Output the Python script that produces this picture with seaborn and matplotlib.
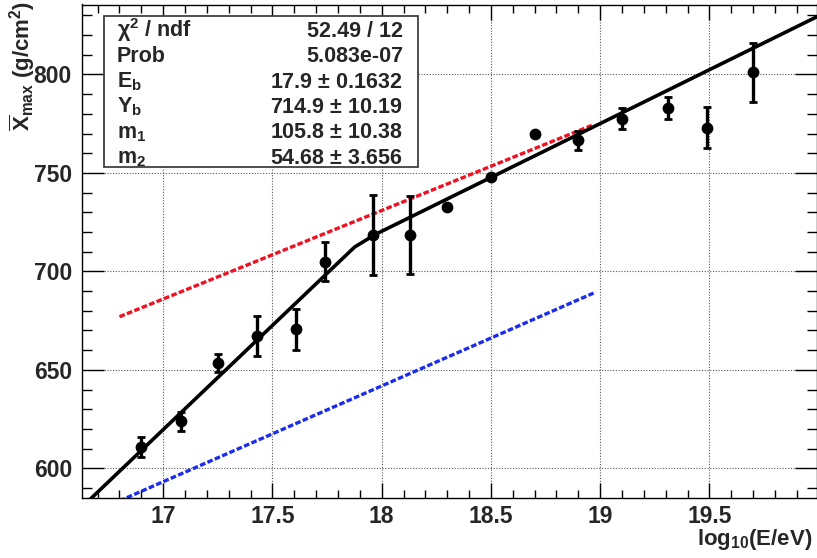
import numpy as np
import pandas as pd
import matplotlib
matplotlib.use("Agg")
import matplotlib.pyplot as plt
from matplotlib.patches import Rectangle
from matplotlib.ticker import MultipleLocator
import seaborn as sns

# Measured <Xmax> per energy bin
log_e = [16.90, 17.08, 17.25, 17.43, 17.61, 17.74, 17.96, 18.13,
         18.30, 18.50, 18.70, 18.90, 19.10, 19.31, 19.49, 19.70]
xmax_mean = [611.0, 624.0, 653.5, 667.0, 670.5, 705.0, 718.5, 718.5,
             732.5, 748.0, 769.5, 766.5, 777.5, 783.0, 773.0, 801.0]
xmax_err = [5.0, 4.8, 4.5, 10.2, 10.3, 10.0, 20.3, 20.0,
            0.0, 0.0, 0.0, 5.0, 5.2, 5.5, 10.4, 15.0]

# Broken-line fit parameters
fit_names = ["E_b", "Y_b", "m1", "m2"]
fit_values = [17.9, 714.9, 105.8, 54.68]
fit_errors = [0.1632, 10.19, 10.38, 3.656]
chi2_ndf = "52.49 / 12"
fit_prob = "5.083e-07"

# Reference lines (endpoints)
proton_x = [16.80, 18.97]
proton_y = [677.0, 774.5]
iron_x = [16.80, 18.98]
iron_y = [583.5, 689.5]

x_ticks = [17, 17.5, 18, 18.5, 19, 19.5]
x_tick_labels = ["17", "17.5", "18", "18.5", "19", "19.5"]
y_ticks = [600, 650, 700, 750, 800]
y_tick_labels = ["600", "650", "700", "750", "800"]

x_lim = (16.627, 19.99)
y_lim = (584.8, 835.5)

sns.set_theme(style="ticks")
plt.rcParams["font.family"] = ["Liberation Sans", "DejaVu Sans"]
plt.rcParams["font.weight"] = "bold"
plt.rcParams["mathtext.fontset"] = "custom"
plt.rcParams["mathtext.rm"] = "Liberation Sans:bold"
plt.rcParams["mathtext.it"] = "Liberation Sans:bold"
plt.rcParams["mathtext.bf"] = "Liberation Sans:bold"

W, H = 817, 558
fig = plt.figure(figsize=(W / 100, H / 100), dpi=100)
ax = fig.add_axes([81.7 / W, 1 - 498.3 / H, (816.5 - 81.7) / W, (498.3 - 4.5) / H])

# Broken-line fit curve
Eb, Yb, m1, m2 = fit_values
fx = np.linspace(x_lim[0], x_lim[1], 36)
fy = np.where(fx < Eb, Yb + m1 * (fx - Eb), Yb + m2 * (fx - Eb))
fit_df = pd.DataFrame({"x": fx, "y": fy})
sns.lineplot(data=fit_df, x="x", y="y", ax=ax, color="black", lw=2.6,
             sort=False, estimator=None, zorder=3)

# Reference lines
ref_df = pd.DataFrame({"x": proton_x + iron_x,
                       "y": proton_y + iron_y,
                       "line": ["p"] * 2 + ["fe"] * 2})
sns.lineplot(data=ref_df, x="x", y="y", hue="line",
             palette={"p": "#f01020", "fe": "#1a2cf0"}, ax=ax, lw=2.4,
             sort=False, estimator=None, legend=False, zorder=2,
             dashes=False)
for ln in ax.lines[1:]:
    ln.set_dashes((1.7, 0.7))

# Data points with error bars
data = pd.DataFrame({"x": log_e, "y": xmax_mean, "err": xmax_err})
ax.errorbar(data["x"], data["y"], yerr=data["err"], fmt="none",
            ecolor="black", elinewidth=2.4, capsize=2.8, capthick=2.0,
            zorder=4)
sns.scatterplot(data=data, x="x", y="y", ax=ax, color="black", s=72,
                edgecolor="black", linewidth=0, zorder=5)

ax.set_xlim(*x_lim)
ax.set_ylim(*y_lim)
ax.set_xlabel("")
ax.set_ylabel("")

ax.xaxis.set_minor_locator(MultipleLocator(0.1))
ax.yaxis.set_minor_locator(MultipleLocator(10))
ax.set_xticks(x_ticks)
ax.set_xticklabels(x_tick_labels, fontsize=16.5, fontweight="bold")
ax.set_yticks(y_ticks)
ax.set_yticklabels(y_tick_labels, fontsize=16.5, fontweight="bold")

ax.tick_params(axis="both", which="both", direction="in", top=True,
               right=True, color="black", width=1.0)
ax.tick_params(axis="x", which="major", length=11, pad=4.5)
ax.tick_params(axis="x", which="minor", length=6)
ax.tick_params(axis="y", which="major", length=16, pad=7)
ax.tick_params(axis="y", which="minor", length=7.5)

ax.grid(True, which="major", linestyle=(0, (1, 1.5)), color="0.35", lw=0.8)
for sp in ax.spines.values():
    sp.set_color("black")
    sp.set_linewidth(1.0)

# Axis titles
fig.text(22 / W, 1 - 1 / H,
         r"$\overline{\mathrm{X}}_{\mathrm{max}}$ (g/cm$^{2}$)",
         rotation=90, ha="center", va="top", fontsize=16,
         fontweight="bold")
fig.text(812 / W, 1 - 527 / H, r"log$_{10}$(E/eV)", ha="right", va="top",
         fontsize=16, fontweight="bold")

# Fit statistics box
box = Rectangle((104 / W, 1 - 167 / H), (418 - 104) / W, (167 - 16) / H,
                transform=fig.transFigure, facecolor="white",
                edgecolor="0.25", lw=1.3, zorder=10)
fig.patches.append(box)

labels = ["χ$^{2}$ / ndf", "Prob", "E$_{\\mathrm{b}}$", "Y$_{\\mathrm{b}}$",
          "m$_{\\mathrm{1}}$", "m$_{\\mathrm{2}}$"]
values = [chi2_ndf, fit_prob] + [
    f"{v:g} $\\pm$ {e:g}" for v, e in zip(fit_values, fit_errors)]
for i, (lab, val) in enumerate(zip(labels, values)):
    yb = 1 - (37 + 25.3 * i) / H
    fig.text(117 / W, yb, lab, ha="left", va="baseline", fontsize=15.5,
             fontweight="bold", zorder=11)
    fig.text(403 / W, yb, val, ha="right", va="baseline", fontsize=15.5,
             fontweight="bold", zorder=11)

fig.savefig("out.png", dpi=100)
